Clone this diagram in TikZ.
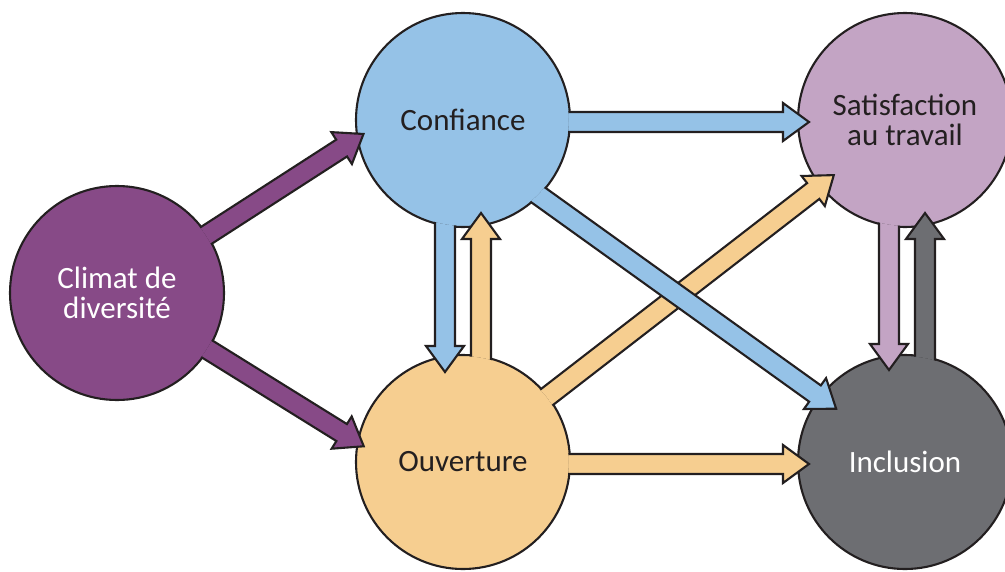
\documentclass[tikz,border=0pt]{standalone}
\usepackage{fontspec}
\setmainfont{Carlito}
\usetikzlibrary{calc}

\definecolor{edge}{HTML}{231F20}
\definecolor{climcol}{HTML}{874A87}
\definecolor{confcol}{HTML}{95C2E7}
\definecolor{ouvcol}{HTML}{F6CE90}
\definecolor{satcol}{HTML}{C3A4C4}
\definecolor{inccol}{HTML}{6D6E72}

\newcommand{\blockarrow}[4]{%
  \begin{scope}[even odd rule]
    \clip (-50,-50) rectangle (1100,650) (#2.center) circle[radius=105.8pt];
    \draw[arr,fill=#1] let \p1=#3, \p2=#4,
      \n1={atan2(\y2-\y1,\x2-\x1)}, \n2={veclen(\x2-\x1,\y2-\y1)} in
      [shift={(\p1)},rotate=\n1]
      (0pt,-10pt) -- ({\n2-26pt},-10pt) -- ({\n2-26pt},-19pt) -- (\n2,0pt)
      -- ({\n2-26pt},19pt) -- ({\n2-26pt},10pt) -- (0pt,10pt) -- cycle;
  \end{scope}}

\begin{document}
\begin{tikzpicture}[x=1pt,y=-1pt,
  circ/.style={circle,draw=edge,line width=2.1pt,minimum size=214pt,inner sep=0pt,
    align=center,text=edge,font=\fontsize{31}{30}\selectfont},
  arr/.style={draw=edge,line width=2.1pt,line join=miter}
]
\useasboundingbox (0,0) rectangle (1005,571);
\node[circ,fill=climcol,text=white] (clim) at (117,293) {Climat de\\diversité};
\node[circ,fill=confcol] (conf) at (463,120) {Confiance};
\node[circ,fill=ouvcol] (ouv) at (463,462) {Ouverture};
\node[circ,fill=satcol] (sat) at (905,120) {Satisfaction\\au travail};
\node[circ,fill=inccol,text=white] (inc) at (905,462) {Inclusion};

\blockarrow{climcol}{clim}{(clim.center)}{($(conf.center)!0.93!(conf.188)$)}
\blockarrow{climcol}{clim}{(clim.center)}{($(ouv.center)!0.93!(ouv.171)$)}
\blockarrow{confcol}{conf}{([yshift=-2pt]conf.center)}{([xshift=-96pt,yshift=-2pt]sat.center)}
\blockarrow{confcol}{conf}{([xshift=-18pt]conf.center)}{([shift={(-18pt,90pt)}]ouv.center)}
\blockarrow{ouvcol}{ouv}{([xshift=18pt]ouv.center)}{([shift={(18pt,-93pt)}]conf.center)}
\blockarrow{ouvcol}{ouv}{([yshift=-2pt]ouv.center)}{([xshift=-96pt,yshift=-2pt]inc.center)}
\blockarrow{ouvcol}{ouv}{(ouv.center)}{($(sat.center)!90pt!(ouv.center)$)}
\blockarrow{confcol}{conf}{([yshift=-21pt]conf.center)}{($(inc.center)!87pt!(conf.center)$)}
\blockarrow{satcol}{sat}{([xshift=-16pt]sat.center)}{([shift={(-16pt,92pt)}]inc.center)}
\blockarrow{inccol}{inc}{([xshift=20pt]inc.center)}{([shift={(20pt,-93pt)}]sat.center)}
\end{tikzpicture}
\end{document}
